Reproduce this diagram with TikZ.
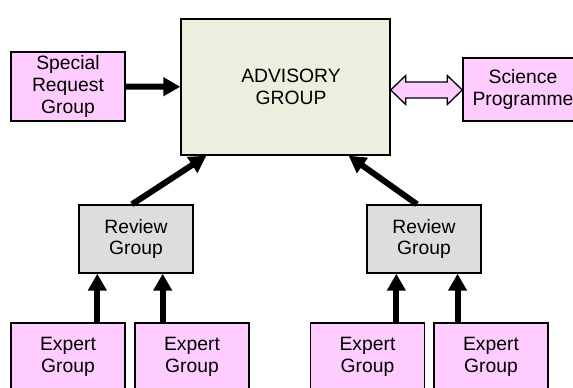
\documentclass[tikz,border=0pt]{standalone}
\usepackage{fontspec}
\setmainfont{Liberation Sans}
\usetikzlibrary{arrows.meta,calc}
\definecolor{pinkc}{HTML}{FFCCFF}
\definecolor{advc}{HTML}{EAF0DD}
\definecolor{revc}{HTML}{DDDDDD}
\begin{document}
\begin{tikzpicture}[x=1pt,y=-1pt,
  box/.style={draw=black, line width=1.4pt, inner sep=0pt, align=center,
    font=\fontsize{19.3}{21.8}\selectfont, minimum width=114pt},
  pinkbox/.style={box, fill=pinkc},
  greybox/.style={box, fill=revc, minimum height=68pt},
  big/.style={line width=6pt, -{Triangle[length=17pt,width=18pt]}},
  dbl/.style={draw=black, fill=pinkc, line width=1.3pt, line join=miter}
]
\clip (0,0) rectangle (573,388);
\fill[white] (0,0) rectangle (573,388);

\node[pinkbox, minimum height=69pt] (sp) at (68,86.5) {Special\\Request\\Group};
\node[box, fill=advc, minimum width=209pt, minimum height=136pt] (adv) at (285.5,87)
  {\hspace*{11pt}ADVISORY\\\hspace*{11pt}GROUP};
\node[pinkbox, minimum width=120pt, minimum height=63pt] (sci) at (523,89.5) {Science\\Programme};
\node[greybox] (rl) at (136,239) {Review\\Group};
\node[greybox] (rr) at (424,239) {Review\\Group};
\node[pinkbox, minimum height=68pt] (e1) at (68,357) {Expert\\Group};
\node[pinkbox, minimum height=68pt] (e2) at (192,357) {Expert\\Group};
\node[pinkbox, minimum height=68pt] (e3) at (367.5,357) {Expert\\Group};
\node[pinkbox, minimum height=68pt] (e4) at (491,357) {Expert\\Group};

% special request -> advisory
\draw[big] (sp) -- (adv);

% review -> advisory
\coordinate (t1) at ($(adv.south west)!0.124!(adv.south east)$);
\coordinate (t2) at ($(adv.south west)!0.80!(adv.south east)$);
\coordinate (s1) at ($(rl.north)+(-4,0)$);
\coordinate (s2) at ($(rr.north)+(-7,0)$);
\draw[big] (s1) -- (t1);
\draw[big] (s2) -- (t2);

% experts -> review
\coordinate (p1) at ($(e1.north west)!0.754!(e1.north east)$);
\coordinate (p2) at ($(e2.north west)!0.246!(e2.north east)$);
\coordinate (p3) at ($(e3.north west)!0.75!(e3.north east)$);
\coordinate (p4) at ($(e4.north west)!0.21!(e4.north east)$);
\draw[big] (p1) -- (p1 |- rl.south);
\draw[big] (p2) -- (p2 |- rl.south);
\draw[big] (p3) -- (p3 |- rr.south);
\draw[big] (p4) -- (p4 |- rr.south);

% double arrow advisory <-> science
\coordinate (da) at (adv.east |- 0,90);
\coordinate (db) at (sci.west |- 0,90);
\draw[dbl] (da) -- ++(15,-14.5) -- ++(0,6.5) -- ($(db)+(-15,-8)$) -- ++(0,-6.5)
  -- (db) -- ++(-15,14.5) -- ++(0,-6.5) -- ($(da)+(15,8)$) -- ++(0,6.5) -- cycle;
\end{tikzpicture}
\end{document}
